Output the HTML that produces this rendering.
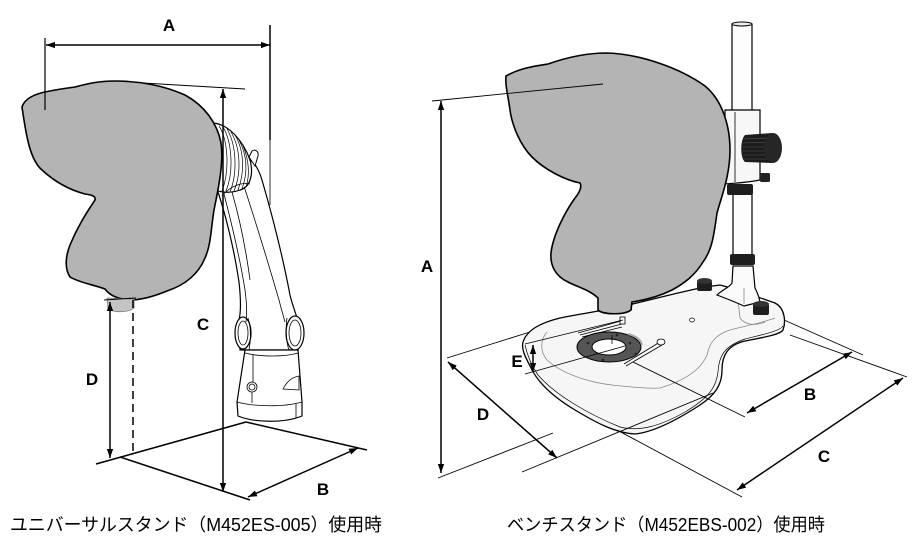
<!DOCTYPE html>
<html><head><meta charset="utf-8"><style>
html,body{margin:0;padding:0;background:#fff;}
svg{display:block}
.lab{font-family:"Liberation Sans","Noto Sans CJK JP",sans-serif;font-weight:bold;font-size:17px;fill:#000}
.cap{font-family:"Liberation Sans","Noto Sans CJK JP",sans-serif;font-size:18px;fill:#000}
</style></head><body>
<svg width="920" height="550" viewBox="0 0 920 550" xmlns="http://www.w3.org/2000/svg">
<defs>
<marker id="ah" viewBox="0 0 10 7" refX="10" refY="3.5" markerUnits="userSpaceOnUse" markerWidth="9" markerHeight="7" orient="auto-start-reverse"><path d="M0,0 L10,3.5 L0,7 z" fill="#000"/></marker>
</defs>

<!-- ================= LEFT FIGURE ================= -->
<!-- floor lines -->
<g stroke="#000" stroke-width="1.5" fill="none">
<line x1="96" y1="464" x2="246" y2="422"/>
<line x1="120" y1="457" x2="250" y2="500"/>
<line x1="246" y1="422" x2="367" y2="450"/>
</g>

<!-- arm -->
<g stroke="#000" stroke-width="1.2" fill="#fff">
<path d="M216,186 C225,212 234,248 239,282 C241,300 241,312 239,320 L240,350 L298,350 L301,332 C298,318 293,308 290,295 C283,258 273,218 262,180 C259,170 255,163 250,160 Z"/>
<path d="M245,350 L237,402 L238,416 C255,423 285,423 302,416 L302,402 L298,350 Z"/>
<ellipse cx="243" cy="333" rx="8" ry="16"/>
<ellipse cx="295" cy="333" rx="9" ry="17"/>
</g>
<g stroke="#000" stroke-width="0.8" fill="none">
<path d="M224,194 C232,225 240,258 245,290 C247,305 247,315 246,322"/>
<path d="M243,183 C255,220 268,262 279,300 C282,312 284,318 285,322"/>
<path d="M232,192 C240,220 246,250 250,280"/>
<ellipse cx="243" cy="333" rx="5" ry="12"/>
<ellipse cx="295" cy="333" rx="6" ry="13"/>
<path d="M248,318 C252,330 250,345 249,350"/>
<path d="M287,318 C285,330 287,345 289,350"/>
<path d="M245,353 C260,357 285,357 298,353"/>
<path d="M237,402 C255,407 285,407 302,402"/>
<line x1="296" y1="404" x2="296" y2="418"/>
<line x1="252" y1="392" x2="252" y2="403"/>
<line x1="253" y1="355" x2="253" y2="382"/>
<circle cx="252" cy="387" r="5"/>
<circle cx="252" cy="387" r="3"/>
<path d="M283,389 C287,381 293,377 299,376 L299,390 Z"/>
</g>
<!-- bellows -->
<path d="M213,123 C228,124 243,140 250,160 C254,175 250,187 240,190 C232,193 222,193 216,190 Z" fill="#fff" stroke="#000" stroke-width="1.2"/>
<g stroke="#000" stroke-width="0.7" fill="none">
<path d="M219,126 C228,140 230,170 222,191"/>
<path d="M223,127 C232,142 234,172 226,191"/>
<path d="M227,129 C236,144 238,172 230,192"/>
<path d="M231,132 C240,147 242,172 234,191"/>
<path d="M235,135 C244,150 245,172 238,190"/>
<path d="M239,140 C247,155 248,172 242,189"/>
<path d="M243,146 C249,160 250,175 246,187"/>
<path d="M222,196 C230,186 242,182 250,184"/>
</g>
<path d="M249,157 L252,151 C255,149 259,151 258,156 L255,166 Z" fill="#fff" stroke="#000" stroke-width="1"/>

<!-- left head -->
<path d="M22,107 C25,97 38,93 50,91 C60,89 68,88 75,87 C90,83 100,81 115,81 C140,81 165,86 185,95 C205,106 217,123 221,143 C224,163 218,190 214,210 C211,228 211,245 205,258 C198,275 185,285 167,291 C155,296 145,299 133,300 C120,300 110,296 105,289 C95,285 80,283 70,277 C64,268 66,255 70,245 C77,228 85,215 95,200 C96,196 92,195 85,194 C70,190 55,182 42,170 C30,160 26,135 22,107 Z" fill="#b4b4b4" stroke="#000" stroke-width="1.6"/>
<path d="M107,298 L108,308 C112,313 128,313 134,308 L134,299 Z" fill="#c4c4c4" stroke="#777" stroke-width="0.8"/>

<!-- left dims -->
<g stroke="#000" fill="none">
<line x1="45" y1="38" x2="45" y2="110" stroke-width="1.2"/>
<line x1="270" y1="25" x2="270" y2="140" stroke-width="1.5"/>
<line x1="270" y1="140" x2="270" y2="205" stroke-width="0.8"/>
<line x1="143" y1="83" x2="245" y2="89" stroke-width="1"/>
<line x1="104" y1="300" x2="136" y2="298" stroke-width="1"/>
<line x1="46" y1="45" x2="270" y2="45" stroke-width="1.5" marker-start="url(#ah)" marker-end="url(#ah)"/>
<line x1="223" y1="89" x2="223" y2="492" stroke-width="1.5" marker-start="url(#ah)" marker-end="url(#ah)"/>
<line x1="110" y1="302" x2="110" y2="458" stroke-width="1.5" marker-start="url(#ah)" marker-end="url(#ah)"/>
<line x1="133" y1="300" x2="133" y2="452" stroke-width="1.5" stroke-dasharray="8,5"/>
<line x1="248" y1="497" x2="358" y2="448" stroke-width="1.5" marker-start="url(#ah)" marker-end="url(#ah)"/>
</g>
<text class="lab" x="169" y="31" text-anchor="middle">A</text>
<text class="lab" x="203" y="330" text-anchor="middle">C</text>
<text class="lab" x="92" y="385" text-anchor="middle">D</text>
<text class="lab" x="323" y="495" text-anchor="middle">B</text>

<!-- ================= RIGHT FIGURE ================= -->
<!-- plate -->
<path d="M523,342 C527,330 540,323 560,318 C580,314 600,311 620,307 C650,300 680,292 705,287 L720,285 C740,290 760,298 775,303 C785,308 786,322 783,330 C780,335 760,338 745,341 C728,345 722,355 722,370 C722,385 715,395 700,405 C680,418 655,432 635,434 C615,433 595,422 575,410 C555,398 540,385 532,370 C526,358 521,350 523,342 Z" fill="#f6f6f6" stroke="#000" stroke-width="1.3"/>
<g stroke="#000" stroke-width="0.7" fill="none">
<path d="M525,345 C528,358 533,368 538,375 C555,395 590,415 620,427 C640,432 660,426 685,412 C705,400 716,390 718,372 C719,355 725,346 745,339 C765,334 780,331 783,326"/>
</g>
<g stroke="#888" stroke-width="0.8" fill="none">
<path d="M547,332 C540,340 540,352 547,360 C560,372 585,382 612,385 C630,387 650,389 660,388 C680,382 700,372 707,355 C710,340 718,334 730,330 C745,326 765,322 775,318"/>
<path d="M738,300 L740,318 C745,325 755,326 765,322"/>
</g>
<!-- ring -->
<ellipse cx="609" cy="347" rx="32" ry="15" fill="#555" stroke="#000" stroke-width="1"/>
<path d="M628,334 C636,336 641,340 642,345" stroke="#aaa" stroke-width="2" fill="none"/>
<ellipse cx="609" cy="347" rx="17" ry="8" fill="#fff" stroke="#000" stroke-width="1"/>
<g fill="#222">
<circle cx="588" cy="343" r="1.3"/><circle cx="630" cy="343" r="1.3"/><circle cx="603" cy="360" r="1.3"/><circle cx="636" cy="354" r="1.3"/><circle cx="617" cy="335" r="1.3"/>
</g>
<line x1="612" y1="335" x2="612" y2="344" stroke="#000" stroke-width="0.8"/>
<!-- clips -->
<g stroke="#000" stroke-width="0.8" fill="none">
<line x1="578" y1="333" x2="621" y2="321"/>
<line x1="580" y1="335" x2="622" y2="324"/>
<line x1="582" y1="337" x2="622" y2="327"/>
<line x1="624" y1="364" x2="660" y2="342"/>
<line x1="626" y1="366" x2="662" y2="345"/>
</g>
<rect x="620" y="317" width="5" height="7" fill="#fff" stroke="#000" stroke-width="0.8"/>
<ellipse cx="661" cy="342" rx="4" ry="3" fill="#fff" stroke="#000" stroke-width="0.8"/>
<ellipse cx="692" cy="320" rx="2.5" ry="2" fill="#fff" stroke="#000" stroke-width="0.7"/>

<!-- pole & bracket -->
<g stroke="#000" stroke-width="1.2">
<path d="M733,266 L753,266 L755,288 C757,292 759,296 760,302 L744,306 C735,302 725,298 717,295 C722,290 730,287 732,283 Z" fill="#fbfbfb"/>
<rect x="732" y="24" width="20" height="90" fill="#fdfdfd"/>
<rect x="733" y="194" width="19" height="62" fill="#fdfdfd"/>
<path d="M725,110 L760,110 L760,180 C745,183 735,183 725,184 Z" fill="#f7f7f7"/>
</g>
<ellipse cx="742" cy="24" rx="10" ry="2" fill="#eee" stroke="#000" stroke-width="1"/>
<line x1="735" y1="112" x2="735" y2="182" stroke="#000" stroke-width="0.8"/>
<line x1="744" y1="288" x2="744" y2="304" stroke="#888" stroke-width="0.8"/>
<path d="M745,135 L772,133 L772,163 L745,162 C740,158 740,140 745,135 Z" fill="#1c1c1c"/>
<g stroke="#555" stroke-width="0.6">
<line x1="744" y1="139" x2="771" y2="138"/><line x1="743" y1="143" x2="771" y2="142"/><line x1="742" y1="147" x2="771" y2="147"/><line x1="742" y1="151" x2="771" y2="151"/><line x1="743" y1="155" x2="771" y2="155"/><line x1="744" y1="159" x2="771" y2="159"/>
</g>
<ellipse cx="773" cy="148" rx="9" ry="15" fill="#262626"/>
<rect x="760" y="173" width="10" height="9" rx="1.5" fill="#222"/>
<rect x="727" y="184" width="26" height="11" rx="2" fill="#1e1e1e"/>
<rect x="730" y="254" width="25" height="11" rx="2" fill="#1e1e1e"/>
<!-- base knobs -->
<rect x="697" y="281" width="15" height="10" rx="2" fill="#1e1e1e"/>
<ellipse cx="704.5" cy="281" rx="7.5" ry="3" fill="#333"/>
<rect x="753" y="304" width="16" height="11" rx="2" fill="#1e1e1e"/>
<ellipse cx="761" cy="304" rx="8" ry="3" fill="#333"/>

<!-- right head -->
<path d="M506,76 C520,68 535,66 548,64 C565,58 585,53 607,53 C640,54 680,68 705,86 C722,100 730,125 730,150 C730,175 722,195 717,213 C714,235 712,250 703,262 C695,275 685,283 672,290 C660,296 645,300 632,302 L631,310 C625,315 603,315 598,310 L598,298 C590,290 575,286 568,282 C555,276 550,265 551,253 C553,235 565,212 575,198 C580,192 582,186 580,183 C565,180 545,170 532,157 C520,145 512,125 510,110 C508,95 505,85 506,76 Z" fill="#b4b4b4" stroke="#000" stroke-width="1.6"/>

<!-- right dims -->
<g stroke="#000" stroke-width="0.9" fill="none">
<line x1="432" y1="101" x2="603" y2="84"/>
<line x1="438" y1="478" x2="553" y2="433"/>
<line x1="447" y1="358" x2="530" y2="332"/>
<line x1="522" y1="472" x2="713" y2="393"/>
<line x1="525" y1="344" x2="623" y2="320"/>
<line x1="525" y1="374" x2="625" y2="346"/>
<line x1="784" y1="320" x2="863" y2="355"/>
<line x1="633" y1="362" x2="745" y2="417"/>
<line x1="790" y1="335" x2="907" y2="377"/>
<line x1="617" y1="430" x2="742" y2="497"/>
</g>
<g stroke="#000" stroke-width="1.5" fill="none">
<line x1="441" y1="101" x2="441" y2="473" marker-start="url(#ah)" marker-end="url(#ah)"/>
<line x1="533" y1="345" x2="533" y2="372" marker-start="url(#ah)" marker-end="url(#ah)"/>
<line x1="448" y1="362" x2="557" y2="458" marker-start="url(#ah)" marker-end="url(#ah)"/>
<line x1="747" y1="413" x2="852" y2="352" marker-start="url(#ah)" marker-end="url(#ah)"/>
<line x1="737" y1="490" x2="903" y2="378" marker-start="url(#ah)" marker-end="url(#ah)"/>
</g>
<text class="lab" x="427" y="272" text-anchor="middle">A</text>
<text class="lab" x="517" y="367" text-anchor="middle">E</text>
<text class="lab" x="483" y="420" text-anchor="middle">D</text>
<text class="lab" x="810" y="400" text-anchor="middle">B</text>
<text class="lab" x="824" y="462" text-anchor="middle">C</text>

<!-- captions -->
<text class="cap" x="10" y="531" textLength="372" lengthAdjust="spacingAndGlyphs">ユニバーサルスタンド（M452ES-005）使用時</text>
<text class="cap" x="507" y="531" textLength="318" lengthAdjust="spacingAndGlyphs">ベンチスタンド（M452EBS-002）使用時</text>
</svg>
</body></html>
